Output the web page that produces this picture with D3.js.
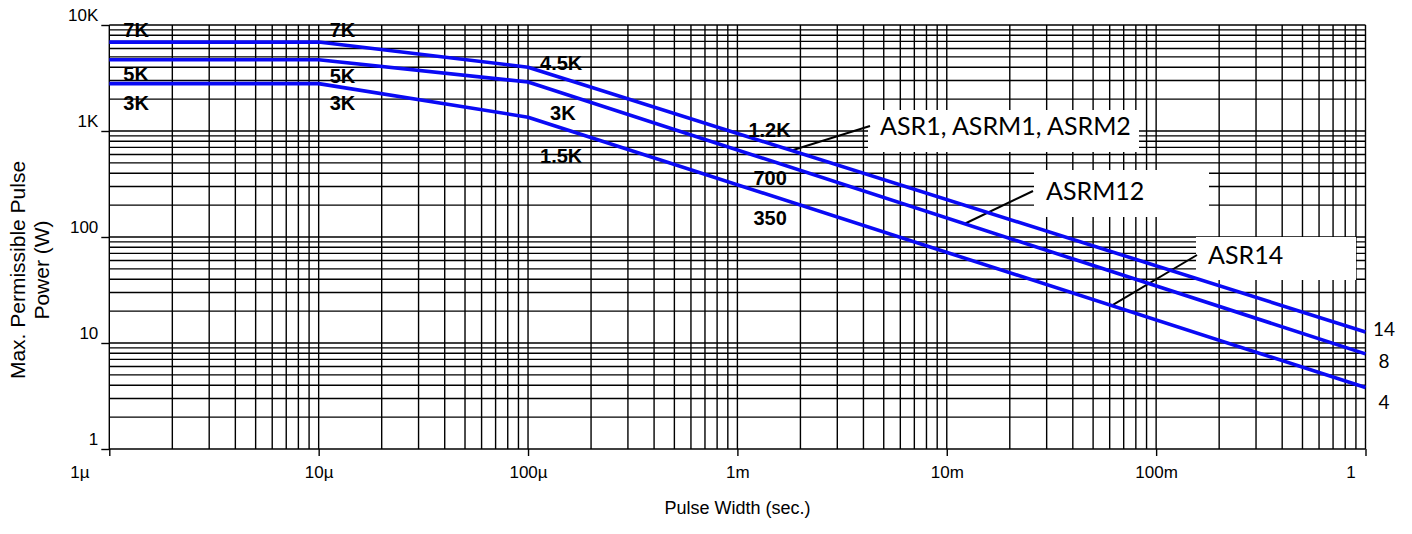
<!DOCTYPE html>
<html>
<head>
<meta charset="utf-8">
<script src="https://cdn.jsdelivr.net/npm/d3@7"></script>
<style>
  body { margin: 0; background: #fff; }
  text { font-family: "Liberation Sans", Arial, sans-serif; fill: #000; }
</style>
</head>
<body>
<div id="chart"></div>
<script>
// values (pulse width in s, power in W)
var pulseWidth = [1e-6, 1e-5, 1e-4, 1];
var asr1Power = [6900, 6900, 4000, 12.7];
var asrm12Power = [4700, 4700, 2900, 7.9];
var asr14Power = [2800, 2800, 1350, 3.8];

var seriesNames = ["ASR1, ASRM1, ASRM2", "ASRM12", "ASR14"];
var endLabels = ["14", "8", "4"];

var xTickValues = [1e-6, 1e-5, 1e-4, 1e-3, 1e-2, 1e-1, 1];
var xTickLabels = ["1µ", "10µ", "100µ", "1m", "10m", "100m", "1"];
var yTickValues = [1, 10, 100, 1000, 10000];
var yTickLabels = ["1", "10", "100", "1K", "10K"];

var series = [asr1Power, asrm12Power, asr14Power];

// bold value labels: series, pulse width where they hang, text
var valueLabels = [
  { s: 0, at: 1e-6, text: "7K", dx: 14, dy: -5 },
  { s: 1, at: 1e-6, text: "5K", dx: 14, dy: 21 },
  { s: 2, at: 1e-6, text: "3K", dx: 14, dy: 26 },
  { s: 0, at: 1e-5, text: "7K", dx: 11, dy: -5 },
  { s: 1, at: 1e-5, text: "5K", dx: 11, dy: 23 },
  { s: 2, at: 1e-5, text: "3K", dx: 11, dy: 26 },
  { s: 0, at: 1e-4, text: "4.5K", dx: 12, dy: 3 },
  { s: 1, at: 1e-4, text: "3K", dx: 22, dy: 38 },
  { s: 2, at: 1e-4, text: "1.5K", dx: 12, dy: 46 },
  { s: 0, at: 1e-3, text: "1.2K", dx: 11, dy: 4 },
  { s: 1, at: 1e-3, text: "700", dx: 16, dy: 35 },
  { s: 2, at: 1e-3, text: "350", dx: 16, dy: 40 }
];

// callouts: leader starts on the series at "at", box in px
var callouts = [
  { s: 0, at: 1.815e-3, box: [868, 110, 271, 42], end: [870, 126] },
  { s: 1, at: 1.218e-2, box: [1034, 170, 175, 47], end: [1033, 191] },
  { s: 2, at: 6.13e-2, box: [1196, 237, 160, 43], end: [1197, 255] }
];

var width = 1412;
var height = 534;

var x = d3.scaleLog().domain([1e-6, 1]).range([109.3, 1365.5]);
var y = d3.scaleLog().domain([1, 10000]).range([449, 25]);

function valueAt(values, t) {
  var i = d3.bisectRight(pulseWidth, t) - 1;
  i = Math.max(0, Math.min(pulseWidth.length - 2, i));
  var f = (Math.log10(t) - Math.log10(pulseWidth[i])) /
    (Math.log10(pulseWidth[i + 1]) - Math.log10(pulseWidth[i]));
  return Math.pow(10, Math.log10(values[i]) +
    f * (Math.log10(values[i + 1]) - Math.log10(values[i])));
}

var svg = d3
  .select("#chart")
  .append("svg")
  .attr("width", width)
  .attr("height", height);

// grid
var grid = svg.append("g").attr("stroke", "#000").attr("stroke-width", 1.4);
grid
  .selectAll(".vx")
  .data(x.ticks())
  .join("line")
  .attr("x1", (d) => x(d))
  .attr("x2", (d) => x(d))
  .attr("y1", y.range()[1])
  .attr("y2", y.range()[0]);
grid
  .selectAll(".hy")
  .data(y.ticks())
  .join("line")
  .attr("x1", x.range()[0])
  .attr("x2", x.range()[1])
  .attr("y1", (d) => y(d))
  .attr("y2", (d) => y(d));

// axes (tick marks + labels only)
svg
  .append("g")
  .attr("transform", `translate(0,${y.range()[0]})`)
  .call(
    d3.axisBottom(x)
      .tickValues(xTickValues)
      .tickFormat((d, i) => xTickLabels[i])
      .tickSize(7)
      .tickPadding(10)
  )
  .call((g) => g.select(".domain").remove())
  .call((g) => g.selectAll(".tick line").attr("stroke", "#000").attr("stroke-width", 1.4))
  .call((g) =>
    g.selectAll(".tick text")
      .attr("font-size", 17)
      .attr("font-family", "Liberation Sans, Arial, sans-serif")
      .attr("fill", "#222")
      .attr("dx", (d, i) => (i == 0 ? -30 : i == xTickValues.length - 1 ? -15 : 0))
  );

svg
  .append("g")
  .attr("transform", `translate(${x.range()[0]},0)`)
  .call(
    d3.axisLeft(y)
      .tickValues(yTickValues)
      .tickFormat((d, i) => yTickLabels[i])
      .tickSize(8)
      .tickPadding(3)
  )
  .call((g) => g.select(".domain").remove())
  .call((g) => g.selectAll(".tick line").attr("stroke", "#000").attr("stroke-width", 1.4))
  .call((g) =>
    g.selectAll(".tick text")
      .attr("font-size", 17)
      .attr("font-family", "Liberation Sans, Arial, sans-serif")
      .attr("fill", "#222")
      .attr("dy", "-0.25em")
  );

// callout boxes sit on the grid
var calloutG = svg.append("g");
calloutG
  .selectAll("rect")
  .data(callouts)
  .join("rect")
  .attr("x", (d) => d.box[0])
  .attr("y", (d) => d.box[1])
  .attr("width", (d) => d.box[2])
  .attr("height", (d) => d.box[3])
  .attr("fill", "#fff");

// the curves
var line = d3
  .line()
  .x((d, i) => x(pulseWidth[i]))
  .y((d) => y(d));

svg
  .append("g")
  .selectAll("path")
  .data(series)
  .join("path")
  .attr("d", line)
  .attr("fill", "none")
  .attr("stroke", "#0a0af5")
  .attr("stroke-width", 3.6)
  .attr("stroke-linejoin", "round");

// leaders
calloutG
  .selectAll("line")
  .data(callouts)
  .join("line")
  .attr("x1", (d) => x(d.at))
  .attr("y1", (d) => y(valueAt(series[d.s], d.at)))
  .attr("x2", (d) => d.end[0])
  .attr("y2", (d) => d.end[1])
  .attr("stroke", "#000")
  .attr("stroke-width", 2);

calloutG
  .selectAll("text")
  .data(callouts)
  .join("text")
  .attr("x", (d) => d.box[0] + 12)
  .attr("y", (d) => d.end[1])
  .attr("dy", "0.36em")
  .style("font-family", "Lato, 'Open Sans', sans-serif")
  .attr("font-size", 25)
  .text((d) => seriesNames[d.s]);

// bold value labels
svg
  .append("g")
  .selectAll("text")
  .data(valueLabels)
  .join("text")
  .attr("x", (d) => x(d.at) + d.dx)
  .attr("y", (d) => y(valueAt(series[d.s], d.at)) + d.dy)
  .attr("font-size", 20)
  .attr("font-weight", "bold")
  .text((d) => d.text);

// end values on the right
svg
  .append("g")
  .selectAll("text")
  .data(series)
  .join("text")
  .attr("x", x(1) + 18.5)
  .attr("y", (d) => y(d[d.length - 1]))
  .attr("dy", (d, i) => [4.5, 14.5, 21][i])
  .attr("text-anchor", "middle")
  .style("font-family", "Lato, 'Open Sans', sans-serif")
  .attr("font-size", 19)
  .text((d, i) => endLabels[i]);

// axis titles
svg
  .append("text")
  .attr("x", (x.range()[0] + x.range()[1]) / 2)
  .attr("y", 514)
  .attr("text-anchor", "middle")
  .attr("font-size", 18)
  .attr("fill", "#222")
  .text("Pulse Width (sec.)");

var yTitle = svg
  .append("text")
  .attr("transform", "translate(0,270) rotate(-90)")
  .attr("text-anchor", "middle")
  .attr("font-size", 21)
  .attr("fill", "#222");
yTitle.append("tspan").attr("x", 0).attr("y", 25).text("Max. Permissible Pulse");
yTitle.append("tspan").attr("x", 0).attr("y", 49).text("Power (W)");
</script>
</body>
</html>
